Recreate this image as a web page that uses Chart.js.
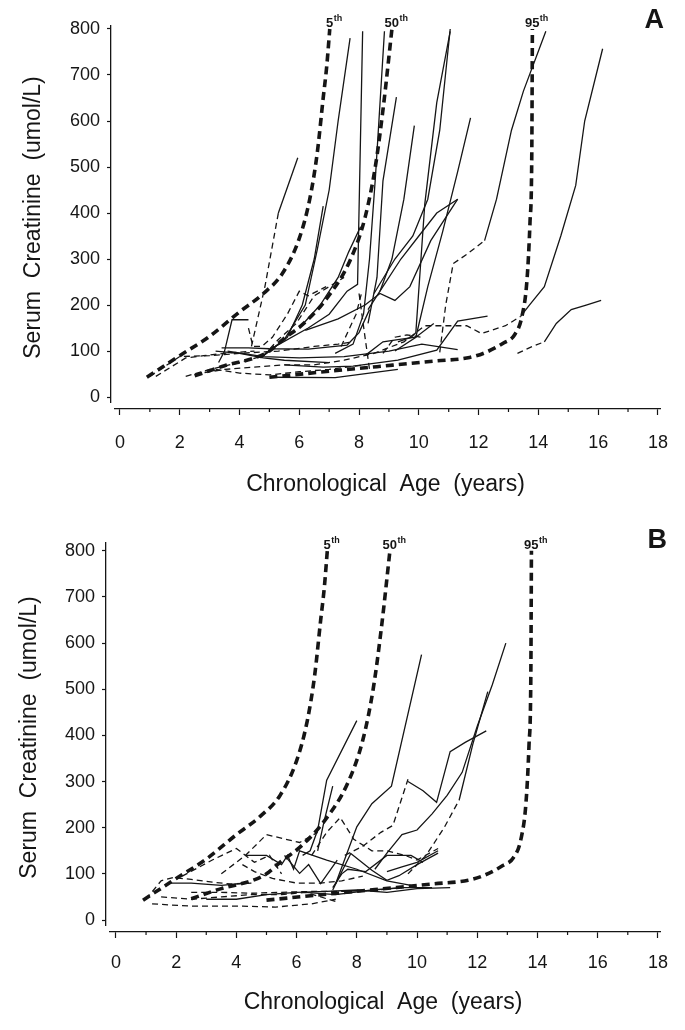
<!DOCTYPE html>
<html>
<head>
<meta charset="utf-8">
<script src="https://cdn.jsdelivr.net/npm/chart.js@4/dist/chart.umd.min.js"></script>
<style>
  html, body { margin: 0; padding: 0; background: #fff; }
  .panel { position: absolute; left: 0; width: 685px; height: 515px; }
</style>
</head>
<body>
<div class="panel" style="top:0"><canvas id="chartA"></canvas></div>
<div class="panel" style="top:515px"><canvas id="chartB"></canvas></div>
<script>
// axis ticks
const xTicks = [0, 2, 4, 6, 8, 10, 12, 14, 16, 18];
const xMinorTicks = [1, 3, 5, 7, 9, 11, 13, 15, 17];
const yTicks = [0, 100, 200, 300, 400, 500, 600, 700, 800];

// reference percentile curves [age, creatinine]
const pctNames = ['5', '50', '95'];
const pct5 = [[0.9,43],[2.0,90],[3.0,132],[4.0,185],[4.8,225],[5.45,270],[6.0,345],[6.35,430],[6.6,530],[6.8,650],[6.92,720],[7.02,800]];
const pct50 = [[2.5,46],[3.5,68],[4.5,85],[5.0,100],[5.45,125],[6.15,160],[6.95,217],[7.7,297],[8.2,390],[8.55,503],[8.82,635],[9.1,800]];
const pct95 = [[5.0,43],[7.0,56],[8.6,66],[10.5,78],[11.7,86],[12.2,96],[12.85,118],[13.2,135],[13.45,175],[13.62,255],[13.72,380],[13.78,530],[13.8,800]];

// panel A patients
const aSolid = [
  [[5.3,400],[5.95,520]],
  [[4.8,90],[5.6,130],[6.1,200],[6.5,300],[6.8,415]],
  [[4.7,85],[5.5,125],[6.2,200],[6.6,320],[7.0,450],[7.3,600],[7.7,780]],
  [[5.2,110],[6.3,150],[7.0,180],[7.6,230],[7.95,245],[8.12,795]],
  [[6.0,150],[6.7,200],[7.3,260],[7.65,315],[8.05,370]],
  [[7.2,95],[7.8,115],[8.15,180],[8.35,300],[8.55,480],[8.85,795]],
  [[8.3,160],[8.6,260],[8.8,470],[9.25,652]],
  [[8.7,230],[9.1,300],[9.5,430],[9.85,590]],
  [[9.3,120],[9.75,130],[9.9,140],[10.2,420],[10.6,640],[11.05,795]],
  [[8.5,225],[9.2,300],[9.8,350],[10.3,430],[10.7,580],[11.05,800]],
  [[6.2,145],[7.3,170],[8.2,200],[8.7,225],[9.2,210],[9.7,240],[10.4,340],[11.3,430]],
  [[8.3,190],[8.7,230],[9.4,300],[10.0,350],[10.6,400],[11.3,430]],
  [[9.2,100],[9.9,130],[10.3,240],[10.8,360],[11.3,490],[11.73,607]],
  [[12.2,340],[12.6,430],[13.1,580],[13.5,665],[14.25,795]],
  [[13.4,175],[13.7,200],[14.2,240],[14.75,350],[15.25,460],[15.55,600],[16.15,757]],
  [[14.2,120],[14.6,160],[15.1,190],[15.6,200],[16.1,210]],
  [[3.3,75],[3.5,100],[3.75,168],[4.3,168]],
  [[3.4,107],[4.3,107],[5.0,105],[6.3,104],[7.6,113],[8.0,140],[8.35,190]],
  [[3.6,100],[4.8,88],[6.0,85],[7.5,88],[9.0,100],[10.1,115],[11.3,103]],
  [[5.5,70],[6.8,65],[7.8,67],[9.3,80],[10.6,102],[11.3,165],[12.3,176]],
  [[5.1,43],[7.2,42],[9.3,60]],
  [[3.2,100],[4.0,95],[4.8,85],[5.5,80],[7.0,75]],
  [[8.2,90],[8.8,120],[9.3,125],[9.9,130],[10.5,160]]
];
const aDashed = [
  [[4.4,110],[4.85,240],[5.3,400]],
  [[1.2,45],[2.2,85],[2.8,90],[3.5,95],[4.5,100]],
  [[2.2,45],[3.0,60],[4.0,75],[4.8,90],[5.3,125],[5.9,160],[6.5,220],[7.0,240],[7.5,260]],
  [[4.3,150],[4.45,110],[4.75,110],[5.1,130],[5.6,180],[6.0,230],[6.3,220],[6.9,240]],
  [[2.5,50],[3.5,60],[4.5,65],[5.5,70],[6.5,70],[7.5,80],[8.5,95],[9.5,120],[10.2,155],[11.6,155],[12.1,138],[12.9,155],[13.4,175]],
  [[3.2,60],[4.0,52],[5.0,48],[6.0,55],[7.0,60],[8.2,70]],
  [[1.0,45],[2.0,88],[3.0,90],[4.0,95],[5.3,100],[6.5,110],[7.3,115],[7.8,120]],
  [[10.7,97],[10.9,200],[11.15,290],[11.6,310],[12.2,340]],
  [[13.3,95],[13.8,110],[14.2,120]],
  [[8.8,95],[9.2,130],[9.6,135],[10.1,130]],
  [[7.4,110],[7.9,180],[8.1,230]],
  [[8.0,225],[8.2,130],[8.35,60]]
];

// panel B patients
const bSolid = [
  [[6.2,140],[6.45,150],[6.7,195],[7.0,303],[8.0,432]],
  [[6.7,150],[6.9,210],[7.2,290]],
  [[7.3,79],[8.0,202],[8.5,252],[9.15,290],[10.15,575]],
  [[8.6,110],[9.0,145],[9.5,185],[10.0,195],[10.5,230],[11.0,270],[11.5,320],[12.0,420],[12.5,510],[12.95,600]],
  [[11.4,260],[11.85,380],[12.35,495]],
  [[9.7,300],[10.2,280],[10.65,255],[11.1,365],[11.6,385],[12.3,410]],
  [[4.3,140],[5.0,140],[5.5,120],[5.7,140],[5.9,110],[6.1,150],[7.0,130],[8.0,110],[9.0,85],[9.8,75]],
  [[5.6,140],[6.1,101],[6.4,120],[6.8,79],[7.35,130]],
  [[7.2,65],[7.8,144],[8.5,108],[9.0,86],[9.4,96],[10.0,120],[10.7,145]],
  [[3.0,45],[4.0,45],[5.0,55],[6.0,60],[7.0,62],[8.0,65],[9.0,60],[10.0,68],[11.1,70]],
  [[6.3,60],[7.3,55],[8.5,65],[9.5,70],[10.5,70]],
  [[1.8,80],[2.5,80],[3.5,75],[4.3,80]],
  [[9.0,105],[9.5,115],[10.0,125],[10.7,150]],
  [[7.2,70],[7.5,100],[7.7,110],[8.3,105],[9.0,140],[9.8,140],[10.2,125]]
];
const bDashed = [
  [[9.7,100],[10.3,140],[10.9,200],[11.4,260]],
  [[7.6,140],[8.2,160],[8.8,190],[9.2,205],[9.7,305]],
  [[1.0,45],[1.5,85],[1.9,92],[2.5,88],[3.2,82],[3.8,78],[4.5,80]],
  [[2.2,95],[3.2,130],[4.0,155],[4.6,125],[5.1,140],[5.5,100]],
  [[3.5,100],[4.3,140],[5.0,185],[6.1,168],[6.7,190]],
  [[6.5,140],[7.0,190],[7.45,222],[7.9,175],[8.5,150],[9.0,150],[9.6,140],[10.0,130],[10.7,155]],
  [[1.2,35],[2.5,30],[4.2,30],[5.3,28],[6.5,35],[7.3,45]],
  [[1.5,50],[2.5,45],[3.5,50],[4.5,55],[5.5,55],[6.3,60],[7.3,40]],
  [[2.5,60],[3.5,60],[4.5,58],[5.5,60],[6.5,62],[7.5,62],[8.5,64],[9.5,70]],
  [[4.2,120],[4.6,105],[5.2,90],[6.0,80],[6.8,80],[7.5,85],[8.2,95]]
];

const INK = '#151515';
const FONT = '"Liberation Sans", Arial, sans-serif';

function pts(arr) { return arr.map(p => ({ x: p[0], y: p[1] })); }

function lineSet(arr, dashed) {
  return arr.map(a => ({
    data: pts(a), showLine: true, borderColor: INK, borderWidth: 1.3,
    borderDash: dashed ? [6, 4] : [], pointRadius: 0
  }));
}

function pctSet(arr) {
  return {
    data: pts(arr), showLine: true, borderColor: INK, borderWidth: 3.6,
    borderDash: [8, 5], pointRadius: 0, cubicInterpolationMode: 'monotone'
  };
}

function drawSup(ctx, cx, cy, main, sup) {
  ctx.font = 'bold 13px ' + FONT;
  const w1 = ctx.measureText(main).width;
  ctx.font = 'bold 9px ' + FONT;
  const w2 = ctx.measureText(sup).width;
  const left = cx - (w1 + w2) / 2;
  ctx.textBaseline = 'alphabetic';
  ctx.textAlign = 'left';
  ctx.font = 'bold 13px ' + FONT;
  ctx.fillText(main, left, cy + 5);
  ctx.font = 'bold 9px ' + FONT;
  ctx.fillText(sup, left + w1 + 0.5, cy - 1);
}

const decor = {
  id: 'decor',
  afterDraw(chart, args, o) {
    const { ctx, chartArea } = chart;
    const x = chart.scales.x, y = chart.scales.y;
    ctx.save();
    // detach the two axis lines at the corner
    ctx.clearRect(chartArea.left - 2, y.getPixelForValue(0) + 6, 4, chartArea.bottom - y.getPixelForValue(0) - 5);
    ctx.clearRect(chartArea.left - 2, chartArea.bottom - 2, 5, 4);
    // minor ticks on the age axis
    ctx.strokeStyle = INK;
    ctx.lineWidth = 1.2;
    xMinorTicks.forEach(v => {
      const px = x.getPixelForValue(v);
      ctx.beginPath();
      ctx.moveTo(px, chartArea.bottom);
      ctx.lineTo(px, chartArea.bottom + 3);
      ctx.stroke();
    });
    // percentile labels
    ctx.fillStyle = INK;
    [pct5, pct50, pct95].forEach((c, i) => {
      const last = c[c.length - 1];
      const px = x.getPixelForValue(last[0]) + 4;
      const py = y.getPixelForValue(last[1]) - o.labelLift;
      drawSup(ctx, px, py, pctNames[i], 'th');
    });
    // panel letter
    ctx.font = 'bold 27px ' + FONT;
    ctx.textAlign = 'right';
    ctx.textBaseline = 'alphabetic';
    ctx.fillText(o.letter, o.letterX, o.letterY);
    ctx.restore();
  }
};

function makePanel(id, letter, solid, dashed, g) {
  const datasets = [pctSet(pct5), pctSet(pct50), pctSet(pct95)]
    .concat(lineSet(solid, false), lineSet(dashed, true));
  return new Chart(document.getElementById(id), {
    type: 'scatter',
    data: { datasets },
    plugins: [decor],
    options: {
      animation: false,
      responsive: true,
      maintainAspectRatio: false,
      devicePixelRatio: 1,
      layout: { padding: { top: g.padTop, right: g.padRight, bottom: g.padBottom, left: g.padLeft } },
      elements: { line: { tension: 0 }, point: { radius: 0 } },
      plugins: {
        legend: { display: false },
        tooltip: { enabled: false },
        decor: { letter, letterX: g.letterX, letterY: g.letterY, labelLift: g.labelLift }
      },
      scales: {
        x: {
          type: 'linear', min: g.xMin, max: g.xMax,
          afterBuildTicks: s => { s.ticks = xTicks.map(v => ({ value: v })); },
          afterFit: s => { s.height = g.xAxisH; },
          border: { display: true, color: INK, width: 1.3 },
          grid: { drawOnChartArea: false, drawTicks: true, tickLength: 6, tickColor: INK, tickWidth: 1.2 },
          ticks: { color: INK, padding: g.xTickPad, autoSkip: false, maxRotation: 0, font: { family: FONT, size: 18 } },
          title: { display: true, text: 'Chronological  Age  (years)', color: INK, padding: 0, font: { family: FONT, size: 23 } }
        },
        y: {
          type: 'linear', min: g.yMin, max: g.yMax,
          afterBuildTicks: s => { s.ticks = yTicks.map(v => ({ value: v })); },
          afterFit: s => { s.width = g.yAxisW; },
          border: { display: true, color: INK, width: 1.3 },
          grid: { drawOnChartArea: false, drawTicks: true, tickLength: 4, tickColor: INK, tickWidth: 1.2 },
          ticks: { color: INK, padding: 7, font: { family: FONT, size: 18 } },
          title: { display: true, text: 'Serum  Creatinine  (umol/L)', color: INK, padding: 0, font: { family: FONT, size: 23 } }
        }
      }
    }
  });
}

makePanel('chartA', 'A', aSolid, aDashed, {
  padTop: 26, padRight: 21, padBottom: 17, padLeft: 20,
  yAxisW: 91, xAxisH: 89, xTickPad: 17,
  xMin: -0.3, xMax: 18.07, yMin: -26, yMax: 806.5,
  letterX: 664, letterY: 28, labelLift: 7
});
makePanel('chartB', 'B', bSolid, bDashed, {
  padTop: 28, padRight: 25, padBottom: 14, padLeft: 16,
  yAxisW: 90, xAxisH: 84, xTickPad: 14,
  xMin: -0.33, xMax: 18.07, yMin: -26, yMax: 817,
  letterX: 667, letterY: 33, labelLift: 7
});
</script>
</body>
</html>
